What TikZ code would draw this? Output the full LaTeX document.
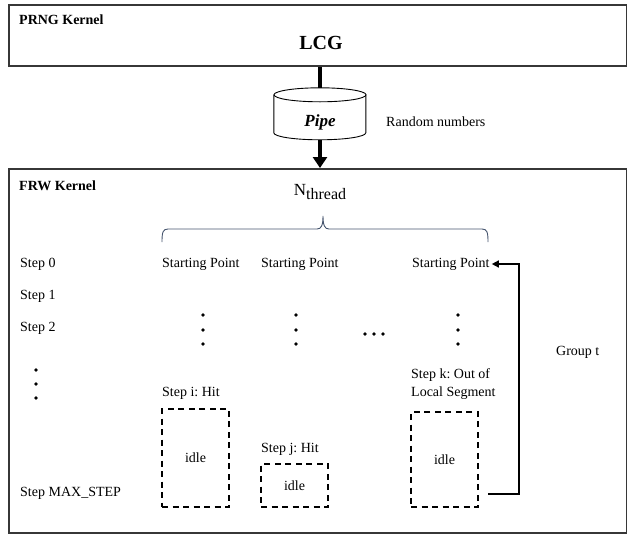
\documentclass[tikz,border=0pt]{standalone}
\usepackage{fontspec}
\setmainfont{Liberation Serif}
\frenchspacing
\usetikzlibrary{arrows.meta, positioning, calc}
\definecolor{kernelGray}{RGB}{55, 55, 55}
\definecolor{braceSlate}{RGB}{70, 85, 110}

\begin{document}
\begin{tikzpicture}[
    x=1pt, y=-1pt,
    font=\fontsize{14}{16}\selectfont,
    >=Triangle,
    node distance=16pt and 8pt,
    % Kernel Frame
    kernel/.style={
        draw=kernelGray,
        rectangle,
        line width=2pt,
        inner sep=0pt,
        minimum width=618.5pt,
        anchor=north west
    },
    % Kernel Title
    kerneltitle/.style={
        anchor=west,
        inner sep=0pt,
        font=\fontsize{14}{16}\selectfont\bfseries
    },
    % Plain Text Label
    plain/.style={
        anchor=west,
        inner sep=0pt
    },
    % Pipe Buffer (outline drawn below)
    pipebuf/.style={
        rectangle,
        minimum width=92pt,
        minimum height=52pt,
        inner sep=0pt
    },
    pipeline/.style={
        draw,
        line width=0.9pt
    },
    % Idle Segment
    idlebox/.style={
        draw,
        rectangle,
        line width=1.3pt,
        dash pattern=on 6pt off 4.5pt,
        minimum width=67pt,
        inner sep=0pt
    },
    % Ellipsis Dot
    dot/.style={
        circle,
        fill,
        inner sep=0pt,
        minimum size=3.6pt
    },
    % Thick Feed Line
    feed/.style={
        draw,
        line width=4.5pt
    },
    % Group Loop Arrow
    grouploop/.style={
        draw,
        line width=1.4pt,
        -{Triangle[width=7pt,length=7pt]}
    },
    % Brace Line
    bracket/.style={
        draw=braceSlate,
        line width=0.9pt
    }
]

    \useasboundingbox (0,0) rectangle (627,536);

    % Stage 1: PRNG Kernel and Pipe
    \node (prng) [kernel, minimum height=61pt] at (7.5,4) {};
    \node (prngtitle) [kerneltitle] at (19,20) {PRNG Kernel};
    \node (lcg) [font=\fontsize{20}{22}\selectfont\bfseries] at (321,43) {LCG};
    \node (pipe) [pipebuf] at (320,114) {};
    \draw [pipeline] ($(pipe.north)+(0,7)$) ellipse [x radius=46pt, y radius=7pt];
    \draw [pipeline] (pipe.north west) ++(0,7) -- ++(0,38)
        arc [start angle=180, end angle=360, x radius=46pt, y radius=7pt] -- ++(0,-38);
    \node (pipelabel) [font=\fontsize{17}{19}\selectfont\bfseries\itshape] at (320,122) {Pipe};
    \node (randnum) [plain] at (386,122) {Random numbers};

    % Stage 2: FRW Kernel
    \node (frw) [kernel, minimum height=364pt] at (7.5,168) {};
    \node (frwtitle) [kerneltitle] at (19,186) {FRW Kernel};
    \node (nthread) at (320,192) {\fontsize{17}{19}\selectfont N\raisebox{-4.5pt}{\fontsize{16}{18}\selectfont thread}};

    % Step Labels
    \node (step0) [plain] at (20,264) {Step 0};
    \node (step1) [plain] at (20,296) {Step 1};
    \node (step2) [plain] at (20,328) {Step 2};
    \node (stepmax) [plain] at (20,493) {Step MAX\_STEP};
    \foreach \y [count=\i] in {370,384,398}
        \node (ldot\i) [dot] at (36,\y) {};

    % Thread Columns
    \node (sp1) [plain] at (162,264) {Starting Point};
    \node (sp2) [plain] at (261,264) {Starting Point};
    \node (sp3) [plain] at (412,264) {Starting Point};
    \foreach \x/\c in {203/a,296/b,458/c}
        \foreach \y [count=\i] in {315,330,344}
            \node (cdot\c\i) [dot] at (\x,\y) {};
    \foreach \x [count=\i] in {365,374,383}
        \node (hdot\i) [dot] at (\x,334) {};

    % Idle Segments
    \node (idle1) [idlebox, minimum height=98pt] at (195.5,458) {idle};
    \node (idle2) [idlebox, minimum height=43pt] at (294.5,485.5) {idle};
    \node (idle3) [idlebox, minimum height=95pt] at (444.5,459.5) {idle};
    \node (hiti) [plain] at (162,393) {Step i: Hit};
    \node (hitj) [plain] at (261,449) {Step j: Hit};
    \node (outk) [plain, align=left, font=\fontsize{14}{18}\selectfont] at (411,384) {Step k: Out of\\Local Segment};
    \node (groupt) [plain] at (556,352) {Group t};

    % Brace over the threads
    \coordinate (braceL) at (162,242);
    \coordinate (braceR) at (488,242);
    \coordinate (braceTip) at (323,216);
    \draw [bracket] (braceL) .. controls (162,232) and (163,229) .. (168,229)
        -- (317,229) .. controls (321,229) and (323,226) .. (braceTip)
        .. controls (323,226) and (325,229) .. (329,229)
        -- (482,229) .. controls (487,229) and (488,232) .. (braceR);

    % Connectors
    \draw [feed] (pipe.north |- prng.south) -- (pipe.north);
    \draw [feed, -{Triangle[width=14pt,length=11pt]}] (pipe.south) -- (pipe.south |- frw.north);
    \coordinate (loopstart) at (488,494);
    \draw [grouploop] (loopstart) -- ++(31,0) |- ([xshift=2pt]sp3.east);

\end{tikzpicture}
\end{document}
